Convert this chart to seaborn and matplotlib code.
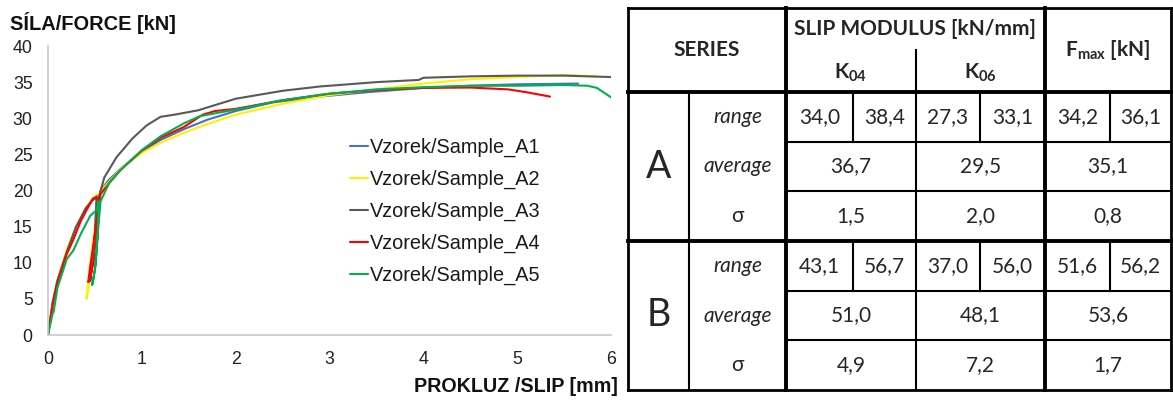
import numpy as np
import pandas as pd
import matplotlib
matplotlib.use("Agg")
import matplotlib.pyplot as plt
import seaborn as sns
from matplotlib.lines import Line2D

# ---------------- data ----------------
samples = ["Vzorek/Sample_A1", "Vzorek/Sample_A2", "Vzorek/Sample_A3",
           "Vzorek/Sample_A4", "Vzorek/Sample_A5"]
colors = ["#4472C4", "#FFF200", "#595959", "#FF0000", "#00B050"]

a1_x = [0, 0.05, 0.1, 0.2, 0.3, 0.32, 0.4, 0.48, 0.52, 0.50, 0.47, 0.45, 0.47, 0.50, 0.53,
        0.56, 0.65, 0.8, 1.0, 1.2, 1.45, 1.7, 2.0, 2.4, 2.9, 3.4, 4.0, 4.5, 5.0, 5.65]
a1_y = [0, 4.5, 7.5, 11.5, 15, 15.3, 17.5, 18.7, 19, 14, 10, 7.5, 10, 14, 18,
        20.0, 21.5, 23.3, 25.4, 27, 28.5, 29.8, 31, 32.2, 33.0, 33.6, 34.2, 34.5, 34.7, 34.8]

a2_x = [0, 0.03, 0.1, 0.2, 0.3, 0.4, 0.48, 0.53, 0.52, 0.48, 0.44, 0.41, 0.43, 0.47, 0.52,
        0.56, 0.6, 0.8, 1.0, 1.2, 1.45, 1.7, 2.0, 2.5, 3.0, 3.5, 4.0, 4.5, 5.0, 5.5, 5.85]
a2_y = [0, 3, 7.5, 11.8, 15, 17.5, 19, 19.5, 15, 10, 7, 5, 7.5, 12, 17,
        19.5, 20.5, 23.3, 25.2, 26.6, 28, 29.2, 30.5, 32, 33.2, 34.0, 34.8, 35.4, 35.7, 36.0, 35.8]

a3_x = [0, 0.05, 0.1, 0.2, 0.3, 0.4, 0.48, 0.52, 0.5, 0.47, 0.45, 0.47, 0.5, 0.54, 0.6,
        0.73, 0.9, 1.05, 1.2, 1.35, 1.6, 2.0, 2.5, 2.9, 3.5, 3.95, 4.0, 4.5, 5.0, 5.5, 6.0]
a3_y = [0, 4.5, 7.5, 11.5, 15, 17.5, 18.8, 19.2, 14, 10, 7.5, 10, 14, 19, 21.8,
        24.6, 27.2, 29, 30.2, 30.5, 31.1, 32.7, 33.8, 34.4, 35.0, 35.3, 35.6, 35.8, 35.9, 35.9, 35.7]

a4_x = [0, 0.05, 0.1, 0.2, 0.27, 0.35, 0.42, 0.48, 0.5, 0.55, 0.53, 0.5, 0.46, 0.43, 0.45,
        0.49, 0.53, 0.56, 0.65, 0.77, 1.0, 1.2, 1.45, 1.65, 1.78, 2.0, 2.5, 3.0, 3.5, 4.0,
        4.5, 4.9, 5.1, 5.35]
a4_y = [0, 4.2, 7.2, 11.2, 13.2, 15.8, 17.5, 18.9, 18.9, 18.9, 15, 11, 8.5, 7.3, 9.5,
        13, 17, 19.5, 21, 22.8, 25.5, 27.3, 28.8, 30.5, 31.0, 31.3, 32.5, 33.4, 33.9, 34.2,
        34.25, 34.0, 33.6, 33.0]

a5_x = [0, 0.05, 0.06, 0.1, 0.2, 0.27, 0.35, 0.45, 0.52, 0.54, 0.53, 0.51, 0.48, 0.47, 0.5,
        0.53, 0.56, 0.65, 0.77, 1.0, 1.2, 1.45, 1.62, 2.0, 2.5, 3.0, 3.5, 4.0, 4.5, 5.0,
        5.5, 5.75, 5.85, 6.0]
a5_y = [0, 3, 3.2, 6.5, 10.5, 11.7, 14, 16.5, 17.3, 18.5, 14, 10, 7.5, 6.9, 9,
        14, 18.5, 21, 22.8, 25.6, 27.5, 29.3, 30.3, 31.2, 32.5, 33.4, 34.0, 34.3, 34.5, 34.5,
        34.6, 34.5, 34.2, 32.9]

xs_all = [a1_x, a2_x, a3_x, a4_x, a5_x]
ys_all = [a1_y, a2_y, a3_y, a4_y, a5_y]

x_ticks = [0, 1, 2, 3, 4, 5, 6]
y_ticks = [0, 5, 10, 15, 20, 25, 30, 35, 40]
title_text = "SÍLA/FORCE [kN]"
xlabel_text = "PROKLUZ /SLIP [mm]"

# table contents
series_names = ["A", "B"]
row_labels = ["range", "average", "σ"]
k04_range = [["34,0", "38,4"], ["43,1", "56,7"]]
k06_range = [["27,3", "33,1"], ["37,0", "56,0"]]
fmax_range = [["34,2", "36,1"], ["51,6", "56,2"]]
k04_avg = ["36,7", "51,0"]
k06_avg = ["29,5", "48,1"]
fmax_avg = ["35,1", "53,6"]
k04_sd = ["1,5", "4,9"]
k06_sd = ["2,0", "7,2"]
fmax_sd = ["0,8", "1,7"]

# ---------------- figure ----------------
sns.set_style("white")
plt.rcParams["font.family"] = ["Liberation Sans", "DejaVu Sans"]
plt.rcParams["mathtext.fontset"] = "custom"
plt.rcParams["mathtext.bf"] = "Lato:bold"
plt.rcParams["mathtext.rm"] = "Lato"

W, H = 1173, 401
fig = plt.figure(figsize=(W / 100, H / 100), dpi=100)

ax = fig.add_axes([48 / W, 1 - 335 / H, (611 - 48) / W, (335 - 46) / H])

rows = []
for name, xs, ys in zip(samples, xs_all, ys_all):
    for i, (xv, yv) in enumerate(zip(xs, ys)):
        rows.append({"sample": name, "slip": xv, "force": yv, "order": i})
df = pd.DataFrame(rows)

sns.lineplot(data=df, x="slip", y="force", hue="sample", hue_order=samples,
             palette=colors, sort=False, estimator=None, linewidth=1.5,
             legend=False, ax=ax)

ax.set_xlim(0, 6)
ax.set_ylim(0, 40)
ax.set_xticks(x_ticks)
ax.set_yticks(y_ticks)
ax.set_xticks(np.arange(0, 6.01, 0.2), minor=True)
ax.set_yticks(np.arange(0, 40.01, 1), minor=True)
ax.set_xlabel("")
ax.set_ylabel("")
for s in ["top", "right"]:
    ax.spines[s].set_visible(False)
for s in ["left", "bottom"]:
    ax.spines[s].set_color("#c8c8c8")
    ax.spines[s].set_linewidth(1.2)
ax.tick_params(axis="both", which="major", direction="inout", length=6, width=1,
               color="#c8c8c8", labelsize=12.8, labelcolor="#222222")
ax.tick_params(axis="both", which="minor", direction="inout", length=4, width=0.8,
               color="#c8c8c8")
ax.tick_params(axis="x", which="major", pad=8.5)
ax.tick_params(axis="y", which="major", pad=8)

handles = [Line2D([0], [0], color=c, lw=1.5) for c in colors]
leg = ax.legend(handles, samples, loc="upper left", frameon=False,
                bbox_to_anchor=(350 / W, 1 - 138 / H), bbox_transform=fig.transFigure,
                fontsize=14.3, handlelength=0.9, handletextpad=0.1, labelspacing=0.64,
                borderpad=0, borderaxespad=0)
for t in leg.get_texts():
    t.set_color("#1a1a1a")

fig.text(10 / W, 1 - 30 / H, title_text, fontsize=14.4, fontweight="bold",
         ha="left", va="baseline", color="#111111")
fig.text(618 / W, 1 - 392 / H, xlabel_text, fontsize=14.2, fontweight="bold",
         ha="right", va="baseline", color="#111111")

# ---------------- table ----------------
tax = fig.add_axes([0, 0, 1, 1])
tax.set_xlim(0, W)
tax.set_ylim(H, 0)
tax.axis("off")

X0, XC1, XC2, XK1, XK2, XK3, XF0, XF1, X1 = 628, 689, 786, 853, 916, 980, 1045, 1110, 1171
Y0, YH1, YH, Y1 = 8, 50, 92, 390
row_h = (Y1 - YH) / 6
thin, thick, outer = 1.5, 2.8, 2.0
lc = "black"

def hline(y, xa, xb, lw):
    tax.plot([xa, xb], [y, y], color=lc, lw=lw, solid_capstyle="projecting")

def vline(x, ya, yb, lw):
    tax.plot([x, x], [ya, yb], color=lc, lw=lw, solid_capstyle="projecting")

# outer border
hline(Y0, X0, X1, outer)
hline(Y1, X0, X1, outer)
vline(X0, Y0, Y1, outer)
vline(X1, Y0, Y1, outer)
# main separators
vline(XC2, Y0, Y1, thick)
vline(XF0, Y0, Y1, thick)
hline(YH, X0, X1, thick)
hline(YH + 3 * row_h, X0, X1, thick)
vline(XC1, YH, Y1, thin)
vline(XK2, YH1, Y1, thin)
for g in range(2):
    ytop = YH + g * 3 * row_h
    hline(ytop + row_h, XC2, X1, thin)
    hline(ytop + 2 * row_h, XC2, X1, thin)
    for xv in (XK1, XK3, XF1):
        vline(xv, ytop, ytop + row_h, thin)

tf = ["Lato", "DejaVu Sans"]
fs = 15
tax.text((X0 + XC2) / 2, (Y0 + YH) / 2, "SERIES", family=tf, fontsize=fs,
         fontweight="bold", ha="center", va="center")
tax.text((XC2 + XF0) / 2, 29, "SLIP MODULUS [kN/mm]", family=tf, fontsize=fs,
         fontweight="bold", ha="center", va="center")
tax.text((XC2 + XK2) / 2, 73, r"$\mathbf{K}_{\mathbf{04}}$", family=tf, fontsize=fs,
         ha="center", va="center")
tax.text((XK2 + XF0) / 2, 73, r"$\mathbf{K}_{\mathbf{06}}$", family=tf, fontsize=fs,
         ha="center", va="center")
tax.text((XF0 + X1) / 2, 50, r"$\mathbf{F}_{\mathbf{max}}$ [kN]", family=tf, fontsize=fs,
         fontweight="bold", ha="center", va="center")

for g in range(2):
    ytop = YH + g * 3 * row_h
    tax.text((X0 + XC1) / 2, ytop + 1.5 * row_h, series_names[g], family=tf,
             fontsize=27, ha="center", va="center")
    for r, lab in enumerate(row_labels):
        yc = ytop + (r + 0.5) * row_h
        style = "normal" if lab == "σ" else "italic"
        tax.text((XC1 + XC2) / 2, yc, lab, family=tf, fontsize=fs, style=style,
                 ha="center", va="center")
    yc = ytop + 0.5 * row_h
    cells = [(XC2, XK1, k04_range[g][0]), (XK1, XK2, k04_range[g][1]),
             (XK2, XK3, k06_range[g][0]), (XK3, XF0, k06_range[g][1]),
             (XF0, XF1, fmax_range[g][0]), (XF1, X1, fmax_range[g][1])]
    for xa, xb, v in cells:
        tax.text((xa + xb) / 2, yc, v, family=tf, fontsize=fs, ha="center", va="center")
    for r, vals in ((1, (k04_avg, k06_avg, fmax_avg)), (2, (k04_sd, k06_sd, fmax_sd))):
        yc = ytop + (r + 0.5) * row_h
        for (xa, xb), arr in zip(((XC2, XK2), (XK2, XF0), (XF0, X1)), vals):
            tax.text((xa + xb) / 2, yc, arr[g], family=tf, fontsize=fs,
                     ha="center", va="center")

fig.savefig("out.png", dpi=100)
